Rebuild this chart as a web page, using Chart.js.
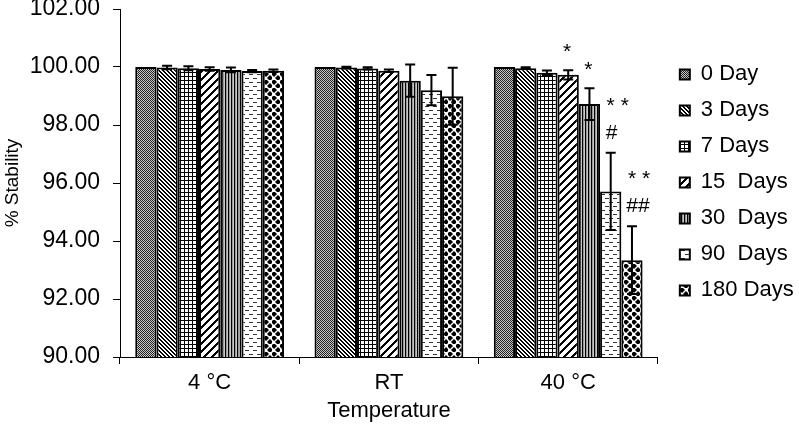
<!DOCTYPE html>
<html>
<head>
<meta charset="utf-8">
<script src="https://cdn.jsdelivr.net/npm/chart.js@4.4.1/dist/chart.umd.min.js"></script>
<style>
  html, body { margin: 0; padding: 0; background: #fff; }
  #chart { display: block; }
</style>
</head>
<body>
<canvas id="chart" width="799" height="434"></canvas>
<script>
const temperatures = ['4 \u00B0C', 'RT', '40 \u00B0C'];
const periods = ['0 Day', '3 Days', '7 Days', '15  Days', '30  Days', '90  Days', '180 Days'];

// % stability for each storage period, one value per temperature
const day0 = [100.00, 100.00, 100.00];
const day3 = [99.98, 99.98, 99.96];
const day7 = [99.96, 99.95, 99.80];
const day15 = [99.93, 99.87, 99.73];
const day30 = [99.90, 99.53, 98.72];
const day90 = [99.86, 99.20, 95.71];
const day180 = [99.87, 98.99, 93.34];

// standard deviations
const sd0 = [0, 0, 0];
const sd3 = [0.06, 0.03, 0.03];
const sd7 = [0.07, 0.04, 0.08];
const sd15 = [0.06, 0.04, 0.16];
const sd30 = [0.08, 0.56, 0.55];
const sd90 = [0.04, 0.52, 1.33];
const sd180 = [0.04, 0.98, 1.17];

// significance marks on the 40 °C group, one per period
const starMarks = ['', '', '', '*', '*', '* *', '* *'];
const hashMarks = ['', '', '', '', '', '#', '##'];

const yTicks = [90, 92, 94, 96, 98, 100, 102];

const values = [day0, day3, day7, day15, day30, day90, day180];
const errors = [sd0, sd3, sd7, sd15, sd30, sd90, sd180];

Chart.defaults.font.family = "'Liberation Sans', Arial, sans-serif";
Chart.defaults.color = '#000';

// small bitmap fills that mimic the excel hatch patterns
function makePattern(w, h, paint) {
  const c = document.createElement('canvas');
  c.width = w;
  c.height = h;
  const g = c.getContext('2d');
  g.fillStyle = '#fff';
  g.fillRect(0, 0, w, h);
  paint(g);
  return g.createPattern(c, 'repeat');
}

const patterns = [
  makePattern(2, 2, g => {
    g.fillStyle = '#c8c8c8';
    g.fillRect(0, 0, 2, 2);
    g.fillStyle = '#222';
    g.fillRect(0, 0, 1, 1);
    g.fillRect(1, 1, 1, 1);
  }),
  makePattern(4, 4, g => {
    g.fillStyle = '#000';
    for (let i = 0; i < 4; i++) {
      g.fillRect(i, i, 1, 1);
      g.fillRect((i + 1) % 4, i, 1, 1);
    }
  }),
  makePattern(4, 4, g => {
    g.fillStyle = '#000';
    g.fillRect(0, 0, 4, 1);
    g.fillRect(0, 0, 1, 4);
  }),
  makePattern(8, 8, g => {
    g.fillStyle = '#000';
    for (let y = 0; y < 8; y++) {
      for (let k = 0; k < 3; k++) g.fillRect((15 - y + k) % 8, y, 1, 1);
    }
  }),
  makePattern(3, 1, g => {
    g.fillStyle = '#000';
    g.fillRect(0, 0, 1, 1);
    g.fillStyle = '#999';
    g.fillRect(1, 0, 1, 1);
    g.fillStyle = '#c8c8c8';
    g.fillRect(2, 0, 1, 1);
  }),
  makePattern(8, 8, g => {
    g.fillStyle = '#333';
    g.fillRect(1, 2, 4, 1);
    g.fillRect(5, 6, 3, 1);
    g.fillRect(0, 6, 1, 1);
  }),
  makePattern(8, 8, g => {
    g.fillStyle = '#000';
    [[2, 2], [6, 6]].forEach(([cx, cy]) => {
      g.beginPath();
      g.moveTo(cx, cy - 3);
      g.lineTo(cx + 3, cy);
      g.lineTo(cx, cy + 3);
      g.lineTo(cx - 3, cy);
      g.closePath();
      g.fill();
    });
  })
];

// error bars and significance marks
const errorBars = {
  id: 'errorBars',
  afterDatasetsDraw(chart) {
    const ctx = chart.ctx;
    const y = chart.scales.y;
    ctx.save();
    ctx.strokeStyle = '#000';
    ctx.lineWidth = 2;
    chart.data.datasets.forEach((ds, i) => {
      chart.getDatasetMeta(i).data.forEach((bar, j) => {
        const e = ds.errors[j];
        if (!e) return;
        const top = y.getPixelForValue(ds.data[j] + e);
        const bot = y.getPixelForValue(ds.data[j] - e);
        ctx.beginPath();
        ctx.moveTo(bar.x, top);
        ctx.lineTo(bar.x, bot);
        ctx.moveTo(bar.x - 5, top);
        ctx.lineTo(bar.x + 5, top);
        ctx.moveTo(bar.x - 5, bot);
        ctx.lineTo(bar.x + 5, bot);
        ctx.stroke();
      });
    });

    ctx.fillStyle = '#000';
    ctx.font = "21px 'Liberation Sans', Arial, sans-serif";
    ctx.textAlign = 'center';
    ctx.textBaseline = 'alphabetic';
    const g = 2; // 40 °C
    chart.data.datasets.forEach((ds, i) => {
      const bar = chart.getDatasetMeta(i).data[g];
      const top = y.getPixelForValue(ds.data[g] + ds.errors[g]);
      let base = top - 12;
      if (hashMarks[i]) {
        base = top - 14;
        ctx.fillText(hashMarks[i], bar.x + (hashMarks[i].length > 1 ? 6 : 1), base);
        base -= 27;
      }
      if (starMarks[i]) {
        ctx.fillText(starMarks[i], bar.x + (starMarks[i].length > 1 ? 7 : -1), base);
      }
    });
    ctx.restore();
  }
};

new Chart(document.getElementById('chart'), {
  type: 'bar',
  data: {
    labels: temperatures,
    datasets: periods.map((p, i) => ({
      label: p,
      data: values[i],
      errors: errors[i],
      backgroundColor: patterns[i],
      borderColor: '#000',
      borderWidth: 2,
      borderSkipped: false,
      categoryPercentage: 0.83,
      barPercentage: 1
    }))
  },
  options: {
    responsive: false,
    animation: false,
    devicePixelRatio: 1,
    layout: { padding: { top: 9, right: 0, bottom: 0, left: 0 } },
    scales: {
      x: {
        grid: { drawOnChartArea: false, tickLength: 7, color: '#000' },
        border: { color: '#000', width: 1 },
        ticks: { font: { size: 22 }, padding: 6 },
        title: { display: true, text: 'Temperature', font: { size: 22 }, padding: { top: 0, bottom: 10 } },
        afterFit: s => { s.height = 77; }
      },
      y: {
        min: 90,
        max: 102,
        afterBuildTicks: s => { s.ticks = yTicks.map(v => ({ value: v })); },
        grid: { drawOnChartArea: false, tickLength: 7, color: '#000' },
        border: { color: '#000', width: 1 },
        ticks: { font: { size: 23 }, padding: 13, callback: v => v.toFixed(2) },
        title: { display: true, text: '% Stability', font: { size: 19 }, padding: { top: 1, bottom: 0 } },
        afterFit: s => { s.width = 120; s.paddingTop = 0; s.paddingBottom = 0; }
      },
      gap: {
        type: 'linear',
        position: 'right',
        grid: { display: false },
        border: { display: false },
        ticks: { display: false },
        afterFit: s => { s.width = 8; }
      }
    },
    plugins: {
      legend: {
        position: 'right',
        align: 'start',
        title: { display: true, text: '', font: { size: 12 }, padding: { top: 26, bottom: 0 } },
        labels: { boxWidth: 10, boxHeight: 10, padding: 14, font: { size: 22 }, color: '#000' }
      },
      tooltip: { enabled: false }
    }
  },
  plugins: [errorBars]
});
</script>
</body>
</html>
